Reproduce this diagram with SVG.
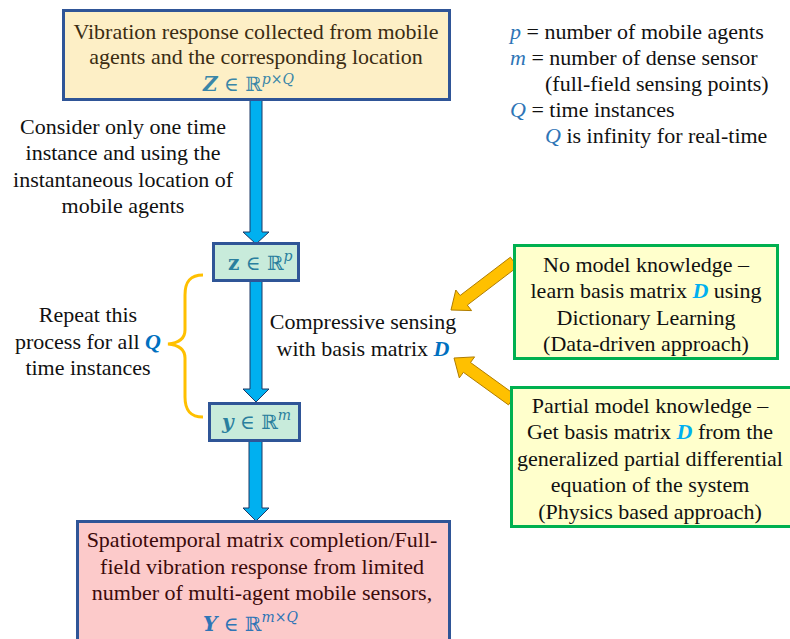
<svg xmlns="http://www.w3.org/2000/svg" width="790" height="639" viewBox="0 0 790 639">
<style>
text{font-family:"Liberation Serif","Times New Roman",serif;font-size:22px;fill:#111}
.c{text-anchor:middle}
.math{font-family:"DejaVu Serif",serif;font-size:20px}
.var{font-style:italic;fill:#2E75B6}
.bd{font-weight:bold;font-style:italic;fill:#0070C0}
.bc{font-weight:bold;font-style:italic;fill:#00B0F0}
.sup{font-size:14px;font-style:italic}
.box{stroke:#2F5597;stroke-width:3}
.gbox{fill:#FFFFCC;stroke:#00B050;stroke-width:3}
.blue{fill:#00B0F0;stroke:#1F3864;stroke-width:1}
.orng{fill:#FFC000;stroke:#B07D00;stroke-width:1}
</style>
<g id="connectors">
<path class="blue" d="M250,100 H262 V232 H269 L256,244 L243,232 H250 Z"/>
<path class="blue" d="M250,281 H262 V389 H269 L256,402 L243,389 H250 Z"/>
<path class="blue" d="M249,441 H262 V508 H269 L256,521 L243,508 H249 Z"/>
<path class="orng" d="M517.6,266.8 L467.3,305.1 L471.6,310.6 L451,310 L455.8,290 L460.1,295.5 L510.4,257.2 Z"/>
<path class="orng" d="M515.5,395.1 L470.5,362.5 L474.6,356.9 L454,358 L459.3,377.9 L463.4,372.3 L508.5,404.9 Z"/>
<path d="M203,275 C190,275 185,282 185,295 V330 C185,339 178,343 168,344 C178,345 185,349 185,358 V397 C185,410 190,417 203,417" fill="none" stroke="#FFC000" stroke-width="3"/>
</g>
<g id="top">
<rect class="box" x="63.5" y="10.5" width="386" height="89" fill="#FDEFC6"/>
<text class="c" x="256" y="39" style="fill:#3B2C12">Vibration response collected from mobile</text>
<text class="c" x="256" y="64" style="fill:#3B2C12">agents and the corresponding location</text>
<text x="203" y="91"><tspan class="math" style="font-weight:bold;font-style:italic;fill:#3A86A8">Z</tspan><tspan class="math" style="fill:#3A86A8"> ∈ ℝ</tspan><tspan class="math sup" dy="-7" style="fill:#3A86A8">p×Q</tspan></text>
</g>
<g id="legend">
<text x="510" y="39"><tspan class="var">p</tspan> = number of mobile agents</text>
<text x="510" y="65"><tspan class="var">m</tspan> = number of dense sensor</text>
<text x="545" y="91">(full-field sensing points)</text>
<text x="510" y="117"><tspan class="var">Q</tspan> = time instances</text>
<text x="545" y="143"><tspan class="var">Q</tspan> is infinity for real-time</text>
</g>
<g id="note-consider">
<text class="c" x="123" y="134">Consider only one time</text>
<text class="c" x="123" y="160">instance and using the</text>
<text class="c" x="123" y="187">instantaneous location of</text>
<text class="c" x="123" y="213">mobile agents</text>
</g>
<g id="zbox">
<rect class="box" x="213.5" y="243.5" width="85" height="37" fill="#C8EBDB"/>
<text x="228" y="270"><tspan class="math" style="font-weight:bold;fill:#2A7F9E">z</tspan><tspan class="math" style="fill:#2A7F9E"> ∈ ℝ</tspan><tspan class="math sup" dy="-9" style="fill:#2A7F9E">p</tspan></text>
</g>
<g id="note-repeat">
<text class="c" x="88" y="322">Repeat this</text>
<text class="c" x="88" y="349">process for all <tspan class="bd">Q</tspan></text>
<text class="c" x="88" y="375">time instances</text>
</g>
<g id="note-cs">
<text class="c" x="363" y="329">Compressive sensing</text>
<text class="c" x="363" y="356">with basis matrix <tspan class="bd">D</tspan></text>
</g>
<g id="ybox">
<rect class="box" x="209.5" y="403.5" width="90" height="37" fill="#C8EBDB"/>
<text x="222" y="429"><tspan class="math" style="font-weight:bold;font-style:italic;fill:#2A7F9E">y</tspan><tspan class="math" style="fill:#2A7F9E"> ∈ ℝ</tspan><tspan class="math sup" dy="-9" style="fill:#2A7F9E">m</tspan></text>
</g>
<g id="nomodel">
<rect class="gbox" x="514.5" y="245.5" width="263" height="113"/>
<text class="c" x="646" y="272">No model knowledge –</text>
<text class="c" x="646" y="298">learn basis matrix <tspan class="bc">D</tspan> using</text>
<text class="c" x="646" y="325">Dictionary Learning</text>
<text class="c" x="646" y="351">(Data-driven approach)</text>
</g>
<g id="partial">
<rect class="gbox" x="511.5" y="387.5" width="280" height="139"/>
<text class="c" x="650" y="413">Partial model knowledge –</text>
<text class="c" x="650" y="439">Get basis matrix <tspan class="bc">D</tspan> from the</text>
<text class="c" x="650" y="466">generalized partial differential</text>
<text class="c" x="650" y="492">equation of the system</text>
<text class="c" x="650" y="519">(Physics based approach)</text>
</g>
<g id="bottom">
<rect class="box" x="77.5" y="521.5" width="372" height="130" fill="#FCCACA"/>
<text class="c" x="262" y="547" style="fill:#3B0A0A">Spatiotemporal matrix completion/Full-</text>
<text class="c" x="262" y="574" style="fill:#3B0A0A">field vibration response from limited</text>
<text class="c" x="262" y="600" style="fill:#3B0A0A">number of multi-agent mobile sensors,</text>
<text x="203" y="631"><tspan class="math" style="font-weight:bold;font-style:italic;fill:#2E75B6">Y</tspan><tspan class="math" style="fill:#2E75B6"> ∈ ℝ</tspan><tspan class="math sup" dy="-9" style="fill:#2E75B6">m×Q</tspan></text>
</g>
</svg>
